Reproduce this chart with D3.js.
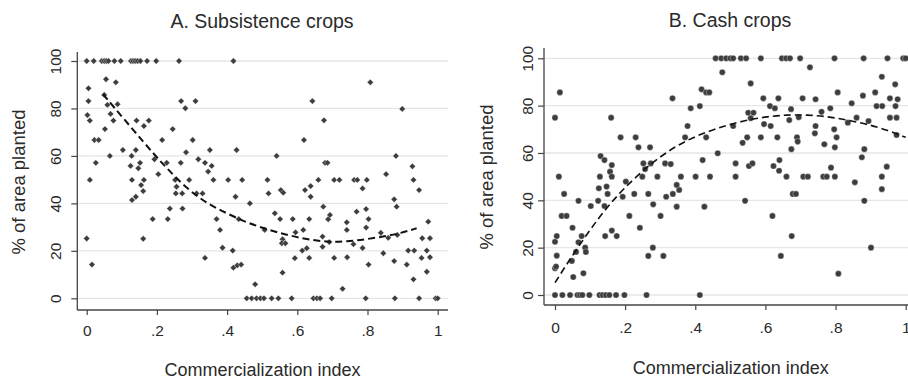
<!DOCTYPE html>
<html>
<head>
<meta charset="utf-8">
<script src="https://cdn.jsdelivr.net/npm/d3@7"></script>
<style>
  body { margin: 0; background: #fff; }
  svg { display: block; font-family: "Liberation Sans", Arial, sans-serif; }
</style>
</head>
<body>
<div id="chart"></div>
<script>
// tick values and labels
const xTicks = [0, 0.2, 0.4, 0.6, 0.8, 1];
const xTickLabels = ['0', '.2', '.4', '.6', '.8', '1'];
const yTicks = [0, 20, 40, 60, 80, 100];
const panelTitles = ['A. Subsistence crops', 'B. Cash crops'];
const xTitle = 'Commercialization index';
const yTitle = '% of area planted';

// A. subsistence crops: x positions of farms at 0% and 100%
const subsZeroX = [0.456, 0.47, 0.484, 0.495, 0.505, 0.527, 0.546, 0.584, 0.646, 0.656, 0.665, 0.698, 0.795, 0.878, 0.947, 0.994, 1.0];
const subsFullX = [0, 0.02, 0.043, 0.05, 0.056, 0.062, 0.079, 0.097, 0.126, 0.132, 0.138, 0.145, 0.153, 0.172, 0.198, 0.263, 0.418];
const subsPoints = [
  [0.005, 88.5], [0.005, 83.1], [0.002, 77.2], [0.009, 74.9], [0.022, 66.7], [0.034, 66.7], [0.026, 57.1], [0.009, 49.9], [0, 25.2], [0.015, 14.2],
  [0.055, 92.3], [0.05, 85.7], [0.083, 91], [0.059, 81.5], [0.088, 81.8], [0.068, 77.7], [0.076, 74.9], [0.052, 71.3], [0.066, 60],
  [0.103, 62.5], [0.128, 60], [0.14, 62.5], [0.142, 74.9], [0.163, 72.6], [0.177, 74.9], [0.125, 55.8], [0.152, 57.1], [0.147, 54.8],
  [0.129, 49.9], [0.163, 49.9], [0.155, 47.7], [0.129, 41.4], [0.14, 42.8], [0.161, 45.2], [0.161, 25.1], [0.188, 33.4],
  [0.193, 58.6], [0.215, 66.7], [0.204, 52.3], [0.228, 57.1], [0.245, 71.3], [0.269, 83.1], [0.31, 83.1], [0.281, 80.1], [0.283, 61.5],
  [0.302, 66.7], [0.268, 57.1], [0.252, 49.9], [0.256, 47], [0.292, 49.9], [0.231, 33.4], [0.237, 37.8], [0.273, 37.8], [0.254, 44.2],
  [0.272, 44.2], [0.313, 44.2], [0.33, 44.2], [0.318, 58.6], [0.337, 57.1], [0.356, 55.8], [0.346, 53.4], [0.351, 62.5], [0.361, 49.9],
  [0.37, 33.4], [0.38, 28.8], [0.387, 21.3], [0.337, 17], [0.416, 20.1], [0.418, 12.9], [0.429, 13.9], [0.44, 14.2], [0.424, 42.8],
  [0.427, 62.5], [0.403, 49.9], [0.443, 49.9], [0.465, 40], [0.433, 33.4], [0.48, 5.9],
  [0.515, 49.9], [0.518, 44.2], [0.507, 28.8], [0.536, 35.8], [0.551, 33.4], [0.587, 33.4], [0.558, 24.9], [0.556, 23.2], [0.566, 23.2],
  [0.558, 10.8], [0.593, 16.9], [0.595, 27.8], [0.617, 28.8], [0.614, 20.1], [0.627, 21.1], [0.634, 17], [0.634, 33.4], [0.622, 45.6],
  [0.638, 47.3], [0.638, 42.8], [0.66, 49.9], [0.674, 38.6], [0.693, 35.1], [0.688, 33.3], [0.672, 26], [0.691, 23.7], [0.672, 21.7],
  [0.705, 17], [0.729, 4], [0.741, 32], [0.741, 28.8], [0.742, 17.3], [0.769, 36.5], [0.76, 22.8], [0.796, 37.6], [0.796, 29.8],
  [0.786, 21.2], [0.803, 33.4], [0.803, 14.2], [0.838, 27.6], [0.845, 19], [0.876, 15.7], [0.859, 25.5], [0.885, 26.7], [0.876, 41.7],
  [0.883, 38.6], [0.912, 14.2], [0.916, 20.1], [0.933, 20.1], [0.931, 8], [0.947, 45.6], [0.931, 49.9], [0.956, 25.3], [0.978, 25.3],
  [0.954, 17], [0.978, 17.3], [0.969, 20.1], [0.969, 11.2], [0.973, 32.3],
  [0.808, 91], [0.643, 83.1], [0.899, 79.8], [0.676, 75], [0.619, 66.7], [0.541, 60], [0.881, 60], [0.679, 57.1], [0.686, 57.1],
  [0.928, 55.6], [0.853, 52.3], [0.705, 49.9], [0.72, 49.9], [0.762, 49.9], [0.771, 49.9], [0.798, 49.9], [0.553, 45.6], [0.56, 44.5],
  [0.786, 46.3]
];
const subsFit = [
  [0.047, 86], [0.076, 80.8], [0.133, 70.9], [0.19, 61], [0.228, 54.8], [0.285, 46.3], [0.342, 40], [0.399, 35.8], [0.456, 31.9],
  [0.513, 29.1], [0.57, 26.7], [0.627, 24.9], [0.684, 23.7], [0.741, 23.9], [0.798, 24.9], [0.855, 26.3], [0.893, 27.4], [0.94, 29.5]
];

// B. cash crops
const cashZeroX = [0, 0.021, 0.043, 0.064, 0.071, 0.078, 0.098, 0.127, 0.136, 0.145, 0.155, 0.174, 0.198, 0.261, 0.413];
const cashFullX = [0.458, 0.474, 0.488, 0.5, 0.508, 0.53, 0.545, 0.587, 0.647, 0.659, 0.67, 0.699, 0.797, 0.88, 0.948, 0.993, 1.0];
const cashPoints = [
  [0.014, 85.6], [0, 74.9], [0.011, 50], [0, 22.5], [0.005, 24.9], [0.005, 16.6], [0, 11.3], [0.003, 12], [0.026, 42.7], [0.019, 33.4],
  [0.033, 33.4], [0.067, 39.8], [0.05, 28.4], [0.076, 24.9], [0.067, 22.3], [0.06, 18.2], [0.086, 20], [0.088, 18.2], [0.048, 14.4],
  [0.052, 7.6], [0.081, 9.2], [0.102, 37.6], [0.123, 39.8], [0.141, 37.6], [0.125, 45.1], [0.147, 45.8], [0.15, 42.7], [0.143, 24.9],
  [0.162, 27.2], [0.176, 24.9], [0.193, 41.5], [0.202, 47.9], [0.212, 33.4], [0.226, 42.7], [0.242, 28.4], [0.266, 42.7], [0.28, 38.3],
  [0.301, 33.4], [0.317, 41.5], [0.336, 42.7], [0.347, 37.3], [0.354, 44.4], [0.347, 46.5], [0.266, 16.5], [0.279, 20], [0.309, 16.5],
  [0.426, 37.3], [0.16, 74.9], [0.187, 66.6], [0.23, 66.6], [0.238, 62.4], [0.271, 62.4], [0.335, 83.1], [0.13, 58.7], [0.141, 57],
  [0.162, 54.9], [0.157, 52.1], [0.162, 50], [0.128, 50], [0.252, 55.6], [0.273, 55.6], [0.257, 53.2], [0.249, 50], [0.292, 50],
  [0.314, 55.6], [0.33, 55.3], [0.359, 50], [0.401, 50], [0.442, 50], [0.371, 66.6], [0.378, 71.4], [0.387, 78.9], [0.413, 79.8],
  [0.418, 86.9], [0.431, 85.6], [0.44, 85.6], [0.431, 66.6], [0.421, 57], [0.464, 59.9], [0.477, 94.1],
  [0.558, 89.4], [0.594, 83.1], [0.637, 83.1], [0.613, 79.8], [0.627, 78.9], [0.706, 83.1], [0.743, 82.7], [0.727, 96.2], [0.673, 78.5],
  [0.695, 75.1], [0.668, 73.9], [0.551, 77], [0.566, 77], [0.558, 74.7], [0.508, 71.4], [0.596, 72.2], [0.615, 71.4], [0.548, 66.6],
  [0.535, 64.3], [0.587, 66.6], [0.634, 66.6], [0.69, 66.6], [0.692, 64.8], [0.674, 61.6], [0.743, 71.4], [0.741, 68.3], [0.76, 77.4],
  [0.785, 78.9], [0.768, 63.7], [0.796, 70], [0.803, 66.6], [0.798, 62.4], [0.806, 85.6], [0.835, 72.8], [0.846, 81], [0.878, 84.2],
  [0.913, 85.6], [0.932, 92.2], [0.97, 89], [0.86, 74.9], [0.894, 73.5], [0.917, 79.8], [0.933, 79.8], [0.955, 83.1], [0.971, 79.8],
  [0.977, 82.7], [0.955, 74.9], [0.974, 74.9], [0.974, 67.6], [0.875, 58.2], [0.882, 61.6], [0.515, 55.6], [0.553, 54.5], [0.563, 55.6],
  [0.623, 54.5], [0.64, 57], [0.639, 52.5], [0.515, 50], [0.66, 50], [0.708, 50], [0.721, 50], [0.765, 50], [0.775, 50], [0.798, 50],
  [0.787, 53.8], [0.946, 54.2], [0.932, 50], [0.855, 47.6], [0.932, 44.7],
  [0.542, 39.8], [0.678, 42.7], [0.687, 42.7], [0.62, 33.4], [0.675, 24.9], [0.644, 16.5], [0.808, 9], [0.882, 39.8], [0.901, 20]
];
const cashFit = [
  [0, 5.2], [0.035, 13.4], [0.092, 26], [0.149, 37.3], [0.206, 46.5], [0.263, 54.2], [0.32, 60.6], [0.377, 65.5], [0.434, 69],
  [0.491, 71.8], [0.548, 73.9], [0.605, 75.4], [0.663, 76.1], [0.72, 76.1], [0.777, 75.4], [0.834, 73.9], [0.89, 72.2], [0.947, 69.7],
  [1, 66.6]
];

const width = 908;
const height = 379;
const markColor = '#3d3d3d';

const svg = d3.select('#chart')
  .append('svg')
  .attr('width', width)
  .attr('height', height);

function drawPanel(p, points, fit) {
  const x = d3.scaleLinear().domain([0, 1]).range([p.x0, p.x1]);
  const y = d3.scaleLinear().domain([0, 100]).range([p.y0, p.y1]);
  const g = svg.append('g');

  // gridlines
  g.append('g')
    .selectAll('line')
    .data(yTicks)
    .join('line')
    .attr('x1', p.axisX)
    .attr('x2', p.gridEnd)
    .attr('y1', (d) => y(d))
    .attr('y2', (d) => y(d))
    .attr('stroke', '#e6e6e6')
    .attr('stroke-width', 1.3);

  // x axis
  const xAxis = g.append('g')
    .attr('transform', `translate(0, ${p.axisY})`)
    .call(d3.axisBottom(x)
      .tickValues(xTicks)
      .tickFormat((d, i) => xTickLabels[i])
      .tickSize(5)
      .tickSizeOuter(0));
  xAxis.select('.domain').remove();
  xAxis.selectAll('.tick line').attr('stroke', '#444').attr('stroke-width', 1.2);
  xAxis.selectAll('.tick text')
    .attr('y', p.xLabelY - p.axisY)
    .attr('dy', 0)
    .attr('fill', '#2a2a2a')
    .style('font-size', '15.5px');

  // y axis, labels turned on their side
  const yAxis = g.append('g')
    .attr('transform', `translate(${p.axisX}, 0)`)
    .call(d3.axisLeft(y)
      .tickValues(yTicks)
      .tickSize(6)
      .tickSizeOuter(0));
  yAxis.select('.domain').remove();
  yAxis.selectAll('.tick line').attr('stroke', '#444').attr('stroke-width', 1.2);
  yAxis.selectAll('.tick text')
    .attr('x', 0)
    .attr('dy', 0)
    .attr('text-anchor', 'middle')
    .attr('transform', `translate(${p.yLabelX - p.axisX}, 0) rotate(-90)`)
    .attr('fill', '#2a2a2a')
    .style('font-size', '15.5px');

  // axis lines
  g.append('line')
    .attr('x1', p.axisX).attr('x2', p.axisX)
    .attr('y1', p.axisTop).attr('y2', p.axisY)
    .attr('stroke', '#444').attr('stroke-width', 1.3);
  g.append('line')
    .attr('x1', p.axisX).attr('x2', p.gridEnd)
    .attr('y1', p.axisY).attr('y2', p.axisY)
    .attr('stroke', '#444').attr('stroke-width', 1.3);

  // markers
  const symbol = d3.symbol().type(p.symbol).size(p.symbolSize);
  g.append('g')
    .selectAll('path')
    .data(points)
    .join('path')
    .attr('d', symbol)
    .attr('transform', (d) => `translate(${x(d[0])}, ${y(d[1])}) rotate(${p.rotate})`)
    .attr('fill', markColor)
    .attr('stroke', '#fff')
    .attr('stroke-width', 0.35);

  // fitted curve
  const line = d3.line()
    .x((d) => x(d[0]))
    .y((d) => y(d[1]))
    .curve(d3.curveBasis);
  g.append('path')
    .datum(fit)
    .attr('d', line)
    .attr('fill', 'none')
    .attr('stroke', '#111')
    .attr('stroke-width', p.fitWidth)
    .attr('stroke-dasharray', '7,4');

  // titles
  g.append('text')
    .attr('x', p.titleX).attr('y', p.titleY)
    .attr('text-anchor', 'middle')
    .attr('fill', '#2a2a2a')
    .style('font-size', '19.5px')
    .text(p.title);
  g.append('text')
    .attr('x', p.xTitleX).attr('y', p.xTitleY)
    .attr('text-anchor', 'middle')
    .attr('fill', '#2a2a2a')
    .style('font-size', '18px')
    .text(xTitle);
  g.append('text')
    .attr('transform', `translate(${p.yTitleX}, ${p.yTitleY}) rotate(-90)`)
    .attr('text-anchor', 'middle')
    .attr('fill', '#2a2a2a')
    .style('font-size', '18.5px')
    .text(yTitle);
}

const subsAll = subsZeroX.map((v) => [v, 0])
  .concat(subsFullX.map((v) => [v, 100]), subsPoints);
const cashAll = cashZeroX.map((v) => [v, 0])
  .concat(cashFullX.map((v) => [v, 100]), cashPoints);

drawPanel({
  title: panelTitles[0],
  x0: 86.7, x1: 437.7, y0: 298.3, y1: 61,
  axisX: 77.3, axisY: 310, axisTop: 52, gridEnd: 448,
  titleX: 262, titleY: 28, xLabelY: 335.5, yLabelX: 61,
  xTitleX: 262.5, xTitleY: 376, yTitleX: 25, yTitleY: 182,
  symbol: d3.symbolSquare, symbolSize: 20, rotate: 45, fitWidth: 2
}, subsAll, subsFit);

drawPanel({
  title: panelTitles[1],
  x0: 555, x1: 905.7, y0: 295, y1: 58.3,
  axisX: 544, axisY: 305, axisTop: 48, gridEnd: 908,
  titleX: 730, titleY: 26.5, xLabelY: 333, yLabelX: 533.3,
  xTitleX: 730.7, xTitleY: 374.3, yTitleX: 493, yTitleY: 177,
  symbol: d3.symbolCircle, symbolSize: 30, rotate: 0, fitWidth: 1.6
}, cashAll, cashFit);
</script>
</body>
</html>
